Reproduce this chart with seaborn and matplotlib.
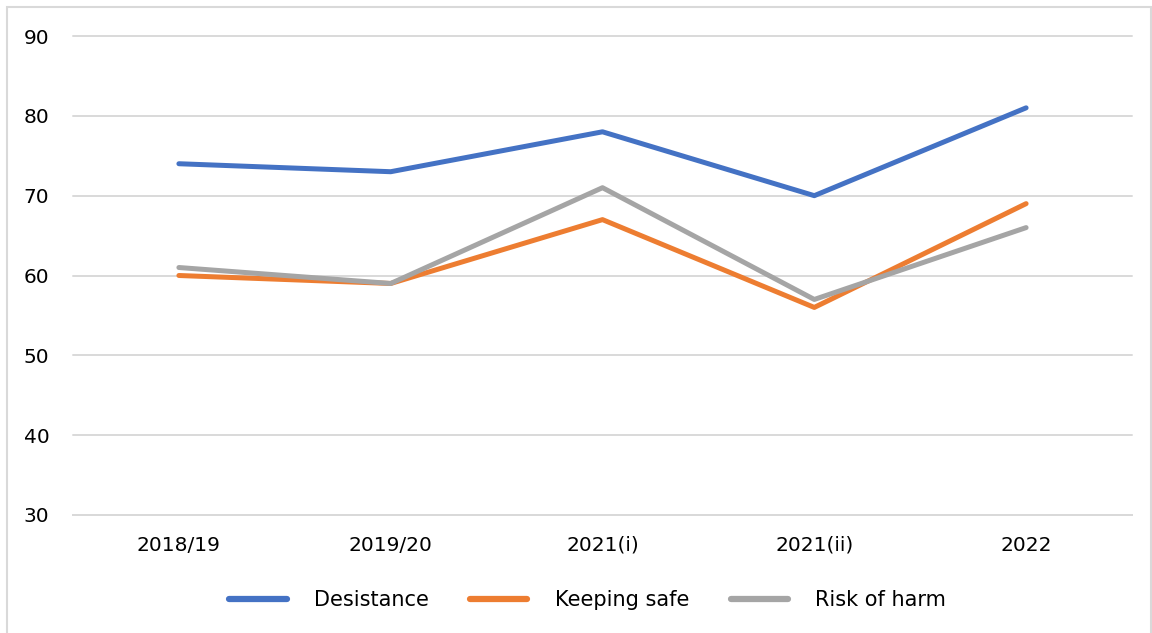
import matplotlib
matplotlib.use("Agg")
import matplotlib.pyplot as plt
import matplotlib.patches as mpatches
import pandas as pd
import seaborn as sns

# Survey waves and scores per measure
periods = ["2018/19", "2019/20", "2021(i)", "2021(ii)", "2022"]
desistance = [74, 73, 78, 70, 81]
keeping_safe = [60, 59, 67, 56, 69]
risk_of_harm = [61, 59, 71, 57, 66]
series_names = ["Desistance", "Keeping safe", "Risk of harm"]
series_colors = ["#4472C4", "#ED7D31", "#A5A5A5"]
y_ticks = [30, 40, 50, 60, 70, 80, 90]

df = pd.DataFrame({
    "period": periods * 3,
    "x": list(range(len(periods))) * 3,
    "value": desistance + keeping_safe + risk_of_harm,
    "series": [s for s in series_names for _ in periods],
})

sns.set_theme(style="white")
plt.rcParams["font.family"] = ["DejaVu Sans"]

fig = plt.figure(figsize=(11.52, 6.33), dpi=100)
ax = fig.add_axes([73 / 1152, 1 - 515 / 633, (1132 - 73) / 1152, (515 - 36) / 633])

sns.lineplot(
    data=df, x="x", y="value", hue="series", hue_order=series_names,
    palette=series_colors, linewidth=3.6, ax=ax, legend=False,
    solid_capstyle="round",
)

ax.set_xlim(-0.5, len(periods) - 0.5)
ax.set_ylim(30, 90)
ax.set_yticks(y_ticks)
ax.set_xticks(range(len(periods)))
ax.set_xticklabels(periods)
ax.set_xlabel("")
ax.set_ylabel("")
ax.grid(axis="y", color="#D9D9D9", linewidth=1.4)
for gl in ax.get_ygridlines():
    gl.set_clip_on(False)
ax.set_axisbelow(True)
for side in ["left", "right", "top"]:
    ax.spines[side].set_visible(False)
ax.spines["bottom"].set_color("#D9D9D9")
ax.spines["bottom"].set_linewidth(1.4)
ax.tick_params(axis="both", length=0, labelsize=14.5, colors="#000000")
ax.tick_params(axis="x", pad=15)
ax.tick_params(axis="y", pad=17)

handles = [plt.Line2D([0], [0], color=c, linewidth=4.5, solid_capstyle="round")
           for c in series_colors]
fig.legend(handles, series_names, loc="center", bbox_to_anchor=(0.51, 1 - 600 / 633),
           ncol=3, frameon=False, fontsize=15, handlelength=2.75, handletextpad=1.3,
           columnspacing=2.0, labelcolor="#000000")

# Light chart-area border
fig.patches.append(mpatches.Rectangle(
    (7 / 1152, -0.01), (1151 - 7) / 1152, 1.01 - 7 / 633,
    transform=fig.transFigure, fill=False, edgecolor="#D9D9D9", linewidth=1.5))

fig.savefig("out.png", dpi=100, facecolor="white")
